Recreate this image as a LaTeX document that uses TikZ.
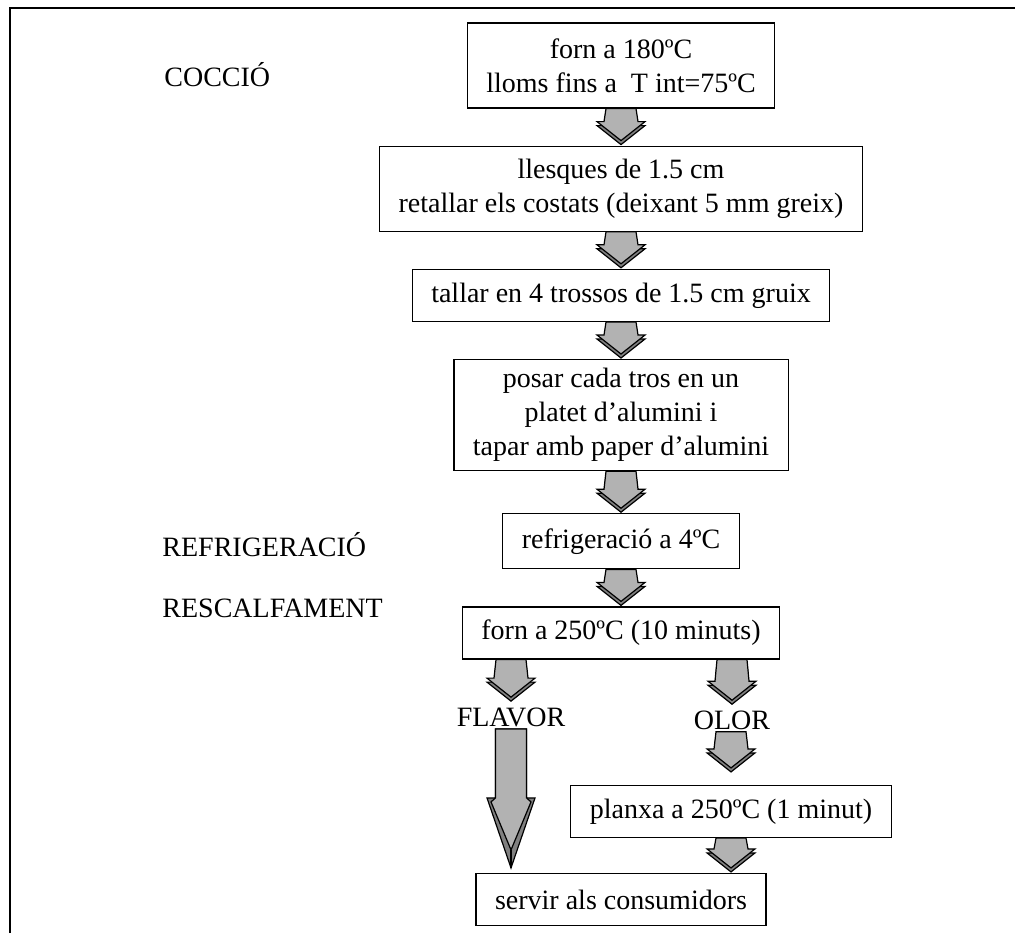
\documentclass[tikz,border=0pt]{standalone}
\usepackage{fontspec}
\setmainfont{Liberation Serif}
\usetikzlibrary{positioning,calc}
\definecolor{Aface}{gray}{0.70}
\definecolor{Aside}{gray}{0.50}
\tikzset{
    pbox/.style={
        rectangle, draw=black, line width=0.6pt, fill=white, text=black,
        align=center, font=\fontsize{14}{17}\selectfont,
        inner xsep=9.5pt, inner ysep=4pt, minimum height=26pt
    },
    ptag/.style={font=\fontsize{14}{17}\selectfont, inner sep=1pt},
    pface/.style={fill=Aface, draw=black, line width=0.6pt, line join=miter},
    pside/.style={fill=Aside, draw=black, line width=0.6pt, line join=miter},
}
% block arrow: #1 start of the shaft, #2 tip
\newcommand{\flowarrow}[2]{%
    \draw [pside] let \p1=#1, \p2=#2 in
        (\x2-7.5pt,\y1-2pt) -- (\x2-8.5pt,\y2+7.5pt) -- (\x2-12pt,\y2+7.5pt)
        -- (\x2,\y2-2pt) -- (\x2+12pt,\y2+7.5pt) -- (\x2+8.5pt,\y2+7.5pt)
        -- (\x2+7.5pt,\y1-2pt) -- cycle;
    \draw [pface] let \p1=#1, \p2=#2 in
        (\x2-7.5pt,\y1) -- (\x2-8.5pt,\y2+9.5pt) -- (\x2-12pt,\y2+9.5pt)
        -- (\x2,\y2) -- (\x2+12pt,\y2+9.5pt) -- (\x2+8.5pt,\y2+9.5pt)
        -- (\x2+7.5pt,\y1) -- cycle;
}
% long arrow seen from above
\newcommand{\longarrow}[2]{%
    \draw [pside] let \p1=#1, \p2=#2 in
        (\x2-7.75pt,\y1) -- (\x2-7.75pt,\y2+35pt) -- (\x2-12pt,\y2+35pt)
        -- (\x2,\y2) -- (\x2+12pt,\y2+35pt) -- (\x2+7.75pt,\y2+35pt)
        -- (\x2+7.75pt,\y1) -- cycle;
    \draw [pface] let \p1=#1, \p2=#2 in
        (\x2-7.75pt,\y1) -- (\x2-7.75pt,\y2+35pt) -- (\x2-10pt,\y2+33pt)
        -- (\x2,\y2+9pt) -- (\x2+10pt,\y2+33pt) -- (\x2+7.75pt,\y2+35pt)
        -- (\x2+7.75pt,\y1) -- cycle;
    \draw [line width=0.6pt] let \p2=#2 in (\x2,\y2+9pt) -- (\x2,\y2);
}

\begin{document}
\begin{tikzpicture}[x=0.5pt, y=-0.5pt, node distance=18.5pt]

    \useasboundingbox (0,0) rectangle (1015,933);
    \draw [line width=1pt] (10,933) -- (10,8) -- (1015,8);

    % main column
    \node [pbox, minimum height=42.5pt] (b1) at (621,65.5)
        {forn a 180ºC\\lloms fins a\ \ T int=75ºC};
    \node [pbox, minimum height=42.5pt, below=of b1] (b2)
        {llesques de 1.5 cm\\retallar els costats (deixant 5 mm greix)};
    \node [pbox, below=of b2] (b3) {tallar en 4 trossos de 1.5 cm gruix};
    \node [pbox, minimum height=55.5pt, below=of b3] (b4)
        {posar cada tros en un\\platet d’alumini i\\tapar amb paper d’alumini};
    \node [pbox, minimum height=27.5pt, below=21pt of b4] (b5) {refrigeració a 4ºC};
    \node [pbox, below=of b5] (b6) {forn a 250ºC (10 minuts)};

    % stage names
    \node [ptag, anchor=west] (coccio) at (162,75) {COCCIÓ};
    \node [ptag, anchor=west] (refrig) at (160,545) {REFRIGERACIÓ};
    \node [ptag, anchor=west] (rescal) at (160,608) {RESCALFAMENT};

    % two branches
    \node [ptag] (flavor) at (511,717) {FLAVOR};
    \node [ptag] (olor) at (732,720) {OLOR};
    \node [pbox] (b7) at (731,811.5) {planxa a 250ºC (1 minut)};
    \node [pbox] (b8) at (621,899.5) {servir als consumidors};

    % arrows
    \flowarrow{(b1.south)}{($(b2.north)+(0,2.5pt)$)}
    \flowarrow{(b2.south)}{($(b3.north)+(0,2.5pt)$)}
    \flowarrow{(b3.south)}{($(b4.north)+(0,2.5pt)$)}
    \flowarrow{(b4.south)}{($(b5.north)+(0,2.5pt)$)}
    \flowarrow{(b5.south)}{($(b6.north)+(0,2.5pt)$)}
    \flowarrow{(b6.south -| flavor)}{($(flavor.north)+(0,4pt)$)}
    \flowarrow{(b6.south -| olor)}{($(olor.north)+(0,4pt)$)}
    \flowarrow{(olor.south)}{($(b7.north)+(0,8.5pt)$)}
    \flowarrow{(b7.south)}{($(b8.north -| b7)+(0,2.5pt)$)}
    \longarrow{(flavor.south)}{($(b8.north -| flavor)+(0,2.5pt)$)}

\end{tikzpicture}
\end{document}
